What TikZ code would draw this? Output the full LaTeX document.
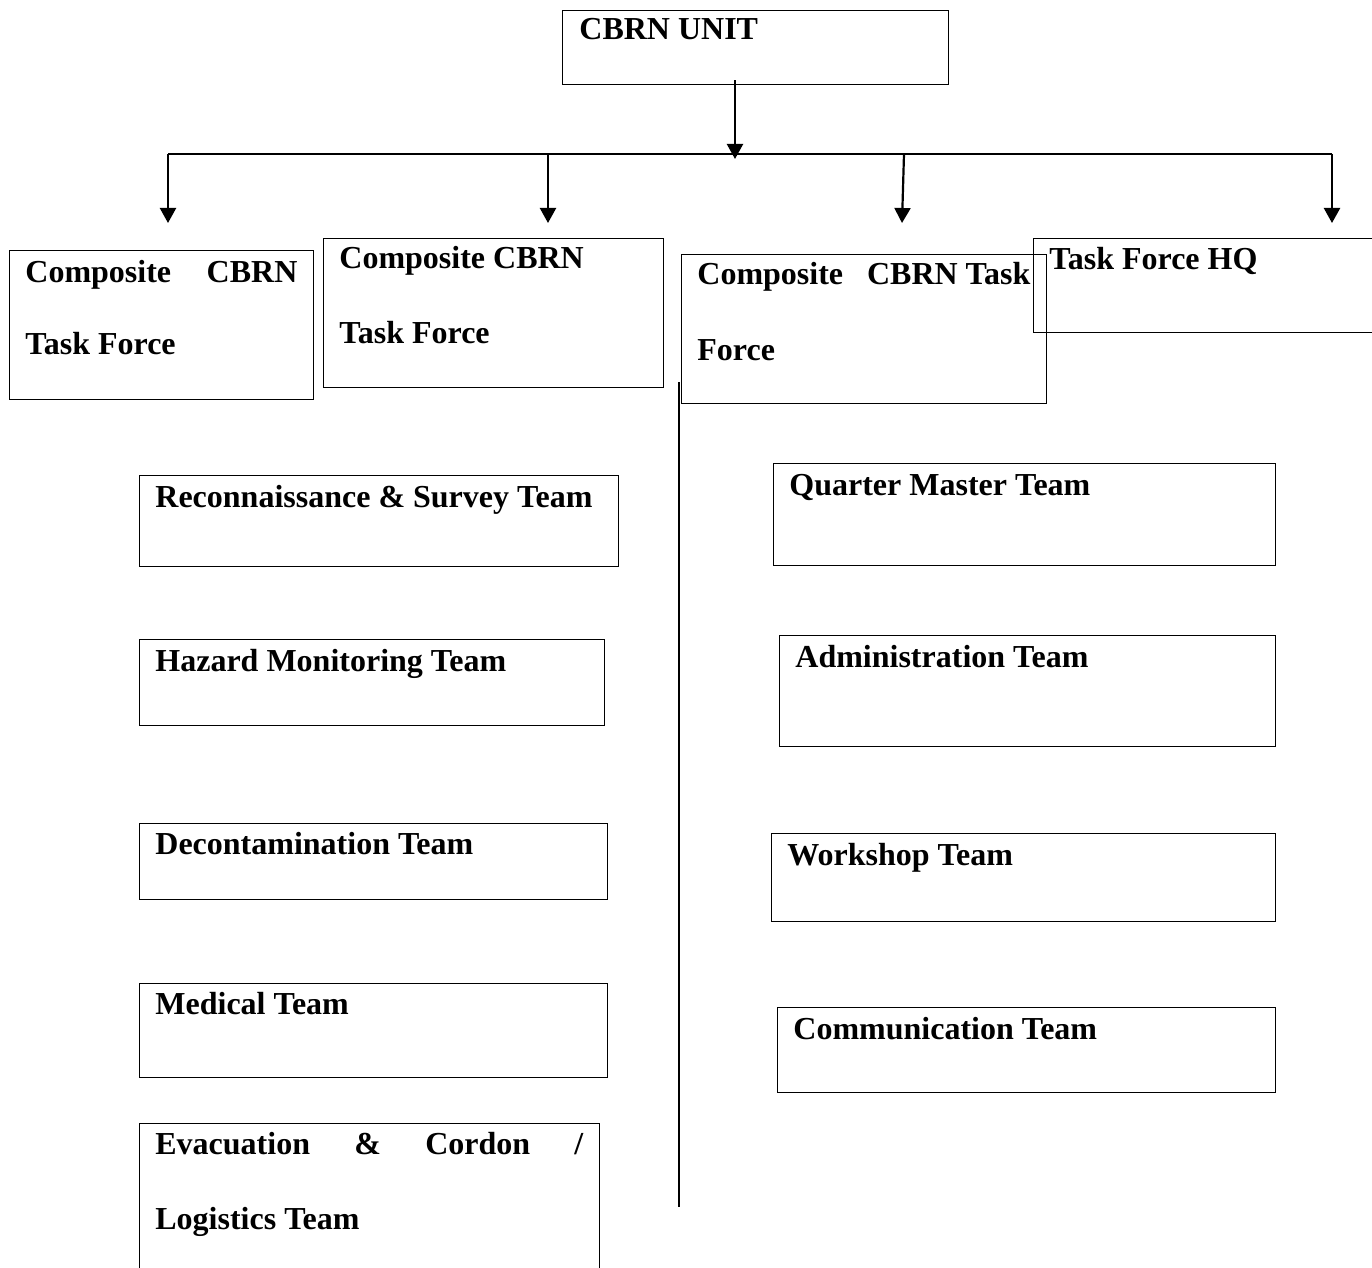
\documentclass[tikz,border=0pt]{standalone}
\usepackage{fontspec}
\setmainfont{Liberation Serif}
\usetikzlibrary{arrows.meta, calc, positioning}
\newcommand{\tfLine}[2]{\makebox[#1][l]{#2}}

\begin{document}
\begin{tikzpicture}[x=0.5pt, y=-0.5pt,
	orgbox/.style={draw, line width=0.7pt, inner sep=0pt, anchor=north west},
	caption/.style={anchor=base west, inner sep=0pt, font=\bfseries\fontsize{16}{19}\selectfont},
	feed/.style={line width=1.1pt, -{Triangle[length=7.5pt, width=8pt]}}]
					\useasboundingbox (0,0) rectangle (1372,1268);
					\clip (0,0) rectangle (1372,1268);

					\node[orgbox, minimum width=193pt, minimum height=37pt] (unit) at (562,10) {};
					\node[caption] (unit-caption) at ($(unit.north west)+(17,30)$) {CBRN UNIT};

					\node[orgbox, minimum width=152pt, minimum height=74.5pt] (tf1) at (9,250) {};
					\node[orgbox, minimum width=170pt, minimum height=74.5pt] (tf2) at (323,238) {};
					\node[orgbox, minimum width=182.5pt, minimum height=74.5pt] (tf3) at (681,254) {};
					\node[orgbox, minimum width=200pt, minimum height=47pt] (hq) at (1033,238) {};
					\node[caption] (tf1-caption) at ($(tf1.north west)+(16,32)$) {\tfLine{136pt}{Composite\hfill CBRN}};
					\node[caption] (tf1-caption2) at ($(tf1.north west)+(16,104)$) {Task Force};
					\node[caption] (tf2-caption) at ($(tf2.north west)+(16,31)$) {Composite CBRN};
					\node[caption] (tf2-caption2) at ($(tf2.north west)+(16,105)$) {Task Force};
					\node[caption] (tf3-caption) at ($(tf3.north west)+(16,31)$) {\tfLine{166.5pt}{Composite\hfill CBRN Task}};
					\node[caption] (tf3-caption2) at ($(tf3.north west)+(16,106)$) {Force};
					\node[caption] (hq-caption) at ($(hq.north west)+(16,32)$) {Task Force HQ};

					% left column
					\node[orgbox, minimum width=239.5pt, minimum height=45.5pt] (recon) at (139,475) {};
					\node[orgbox, minimum width=232.5pt, minimum height=43pt] (hazard) at (139,639) {};
					\node[orgbox, minimum width=234pt, minimum height=38pt] (decon) at (139,823) {};
					\node[orgbox, minimum width=234pt, minimum height=47pt] (medical) at (139,983) {};
					\node[orgbox, minimum width=230pt, minimum height=100pt] (evac) at (139,1123) {};
					\node[caption] (recon-caption) at ($(recon.north west)+(16,32)$) {Reconnaissance \& Survey Team};
					\node[caption] (hazard-caption) at ($(hazard.north west)+(16,32)$) {Hazard Monitoring Team};
					\node[caption] (decon-caption) at ($(decon.north west)+(16,31)$) {Decontamination Team};
					\node[caption] (medical-caption) at ($(medical.north west)+(16,31)$) {Medical Team};
					\node[caption] (evac-caption) at ($(evac.north west)+(16,31)$) {\tfLine{214pt}{Evacuation\hfill \&\hfill Cordon\hfill /}};
					\node[caption] (evac-caption2) at ($(evac.north west)+(16,106)$) {Logistics Team};

					% right column
					\node[orgbox, minimum width=251pt, minimum height=51pt] (qm) at (773,463) {};
					\node[orgbox, minimum width=248pt, minimum height=55.5pt] (admin) at (779,635) {};
					\node[orgbox, minimum width=252pt, minimum height=44pt] (workshop) at (771,833) {};
					\node[orgbox, minimum width=249pt, minimum height=42.5pt] (comm) at (777,1007) {};
					\node[caption] (qm-caption) at ($(qm.north west)+(16,32)$) {Quarter Master Team};
					\node[caption] (admin-caption) at ($(admin.north west)+(16,32)$) {Administration Team};
					\node[caption] (workshop-caption) at ($(workshop.north west)+(16,32)$) {Workshop Team};
					\node[caption] (comm-caption) at ($(comm.north west)+(16,32)$) {Communication Team};

					\coordinate (bus) at (735,154);
					\coordinate (bus-w) at (168,154);
					\coordinate (bus-e) at (1332,154);
					\coordinate (drop1) at (168,223);
					\coordinate (drop2) at (548,223);
					\coordinate (drop3) at (902,223);
					\coordinate (drop4) at (1332,223);
					\coordinate (split-top) at (679,382);
					\coordinate (split-bot) at (679,1207);

					\draw[feed] ([yshift=2.5pt]unit.south -| bus) -- ([yshift=-2.5pt]bus);
					\draw[line width=1.1pt] (bus-w) -- (bus-e);
					\draw[feed] (bus-w) -- (drop1);
					\draw[feed] (drop2 |- bus) -- (drop2);
					\draw[feed] ([xshift=1pt]drop3 |- bus) -- (drop3);
					\draw[feed] (bus-e) -- (drop4);
					\draw[line width=0.9pt] (split-top) -- (split-bot);
				\end{tikzpicture}
\end{document}
